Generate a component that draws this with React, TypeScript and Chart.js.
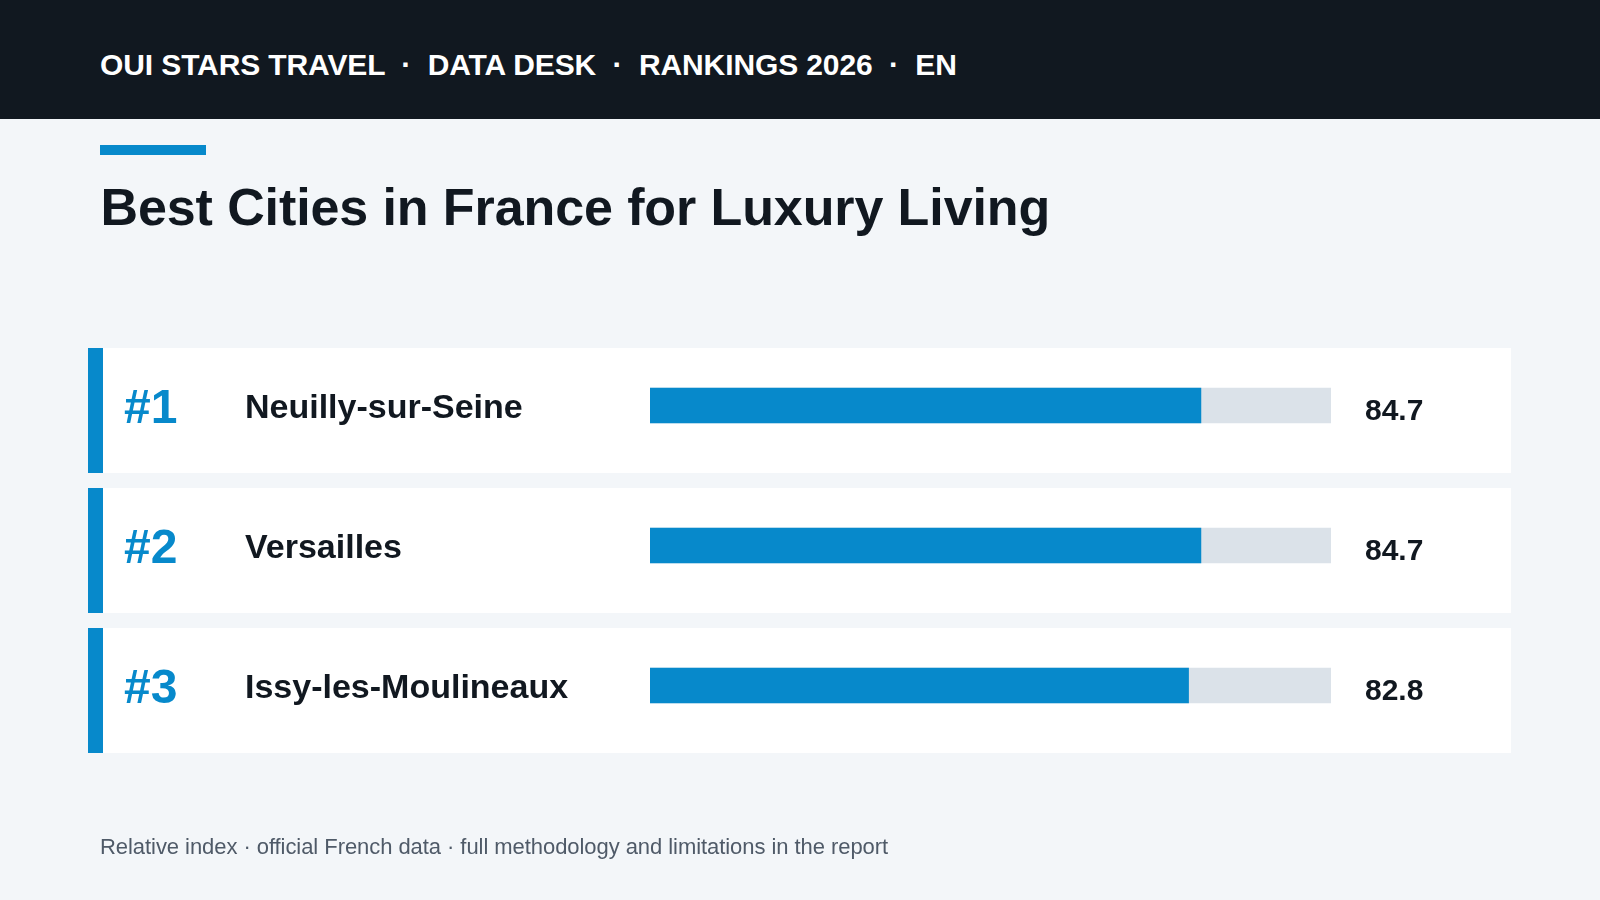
import React, { useEffect, useRef } from "react";
import { Chart, registerables } from "chart.js";

Chart.register(...registerables);

const FONT = 'Helvetica, Arial, sans-serif';
const BLUE = "#0789cb";
const INK = "#111820";

const ranks = ["#1", "#2", "#3"];
const cities = ["Neuilly-sur-Seine", "Versailles", "Issy-les-Moulineaux"];
const scores = [84.7, 84.7, 82.8];
const trackValues = [104.7, 104.7, 104.7];

const headerText = "OUI STARS TRAVEL  ·  DATA DESK  ·  RANKINGS 2026  ·  EN";
const titleText = "Best Cities in France for Luxury Living";
const noteText = "Relative index · official French data · full methodology and limitations in the report";

// white cards behind the rows, rank, name and score text on top
const rowDecor = {
    id: "rowDecor",
    beforeDraw(chart: any) {
        const { ctx, scales } = chart;
        ctx.save();
        cities.forEach((_, i) => {
            const mid = scales.y.getPixelForValue(i);
            ctx.fillStyle = "#ffffff";
            ctx.fillRect(88, mid - 57.5, 1423, 125);
            ctx.fillStyle = BLUE;
            ctx.fillRect(88, mid - 57.5, 15, 125);
        });
        ctx.restore();
    },
    afterDraw(chart: any) {
        const { ctx, scales } = chart;
        ctx.save();
        ctx.textAlign = "left";
        ctx.textBaseline = "alphabetic";
        cities.forEach((name, i) => {
            const mid = scales.y.getPixelForValue(i);
            ctx.fillStyle = BLUE;
            ctx.font = `bold 48px ${FONT}`;
            ctx.fillText(ranks[i], 124, mid + 17.5);
            ctx.fillStyle = INK;
            ctx.font = `bold 34px ${FONT}`;
            ctx.fillText(name, 245, mid + 12.5);
            ctx.font = `bold 30px ${FONT}`;
            ctx.fillText(scores[i].toFixed(1), 1365, mid + 14.5);
        });
        ctx.restore();
    },
};

const App = () => {
    const canvasRef = useRef<HTMLCanvasElement | null>(null);

    useEffect(() => {
        const ctx = canvasRef.current?.getContext("2d") as CanvasRenderingContext2D;
        if (!ctx) return;

        const chart = new Chart(ctx, {
            type: "bar",
            data: {
                labels: cities,
                datasets: [
                    { label: "Index", data: scores, backgroundColor: BLUE, order: 1, grouped: false, barThickness: 35 },
                    { label: "Track", data: trackValues, backgroundColor: "#dbe2e9", order: 2, grouped: false, barThickness: 35 },
                ],
            },
            options: {
                indexAxis: "y",
                animation: false,
                responsive: false,
                layout: { padding: { left: 650, right: 269, top: 335.5, bottom: 144.5 } },
                plugins: { legend: { display: false }, tooltip: { enabled: false } },
                scales: {
                    x: { display: false, min: 0, max: 104.7 },
                    y: { display: false },
                },
            },
            plugins: [rowDecor],
        } as any);

        return () => {
            chart.destroy();
        };
    }, []);

    return (
        <div style={{ position: "absolute", left: 0, top: 0, width: 1600, height: 900, overflow: "hidden", background: "#f3f6f9", fontFamily: FONT }}>
            <canvas ref={canvasRef} width={1600} height={900} style={{ position: "absolute", left: 0, top: 0 }} />
            <div style={{ position: "absolute", left: 0, top: 0, width: 1600, height: 119, background: INK }} />
            <div style={{ position: "absolute", left: 100, top: 47, lineHeight: "36px", fontSize: 30, fontWeight: 700, letterSpacing: -0.11, color: "#ffffff", whiteSpace: "pre" }}>
                {headerText}
            </div>
            <div style={{ position: "absolute", left: 100, top: 145, width: 106, height: 10, background: BLUE }} />
            <div style={{ position: "absolute", left: 100.5, top: 177, lineHeight: "60px", fontSize: 52, fontWeight: 700, letterSpacing: -0.1, color: INK, whiteSpace: "pre" }}>
                {titleText}
            </div>
            <div style={{ position: "absolute", left: 100, top: 832, lineHeight: "30px", fontSize: 22, letterSpacing: -0.06, color: "#4f5a68", whiteSpace: "pre" }}>
                {noteText}
            </div>
        </div>
    );
};

export default App;
